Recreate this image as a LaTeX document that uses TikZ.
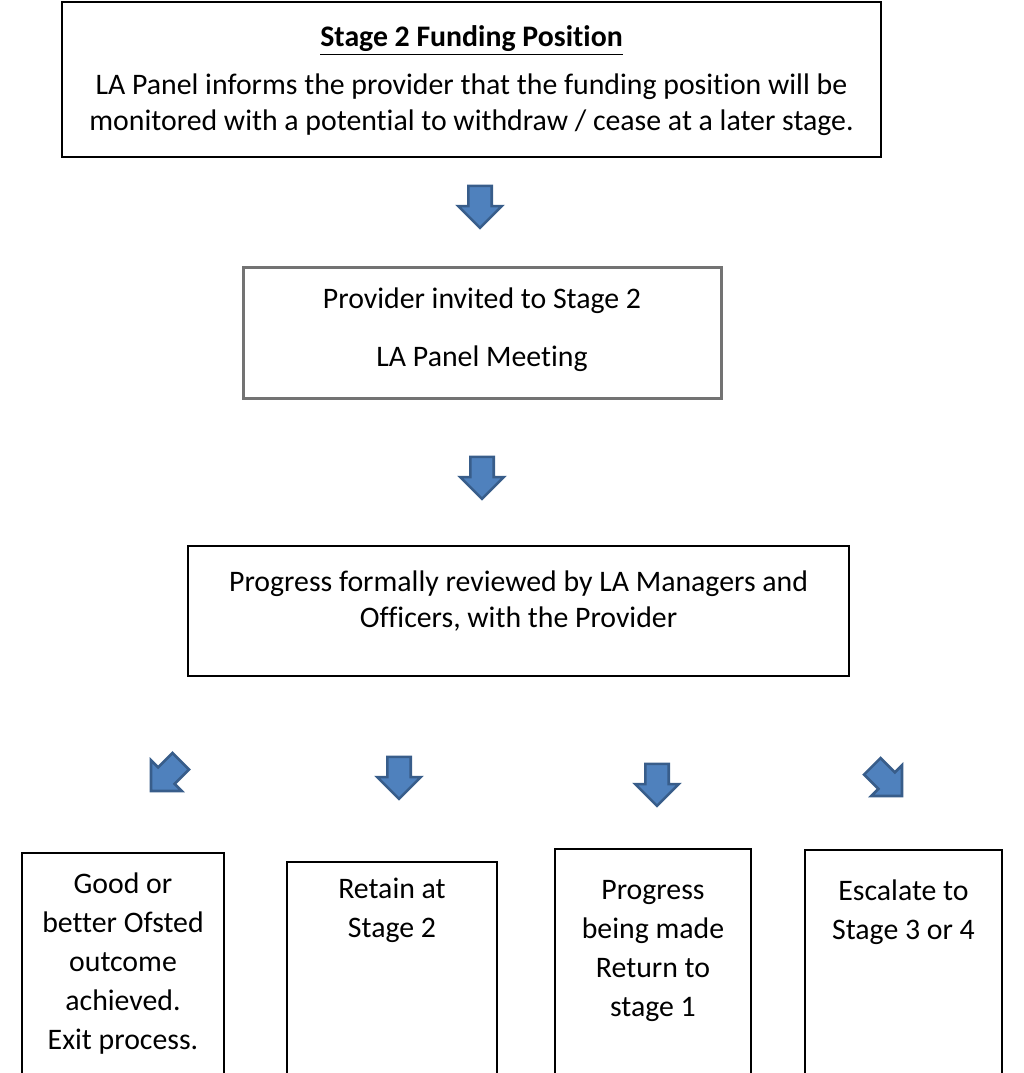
\documentclass[tikz,border=0pt]{standalone}
\usepackage{fontspec}
\setmainfont{Carlito}[Ligatures=NoCommon]
\usetikzlibrary{shapes.arrows}
\definecolor{arrfill}{RGB}{79,129,189}
\definecolor{arrline}{RGB}{56,93,138}
\begin{document}
\begin{tikzpicture}[x=0.5pt,y=-0.5pt,line join=miter,
	box/.style={draw,line width=0.8pt,inner sep=0pt},
	txt/.style={align=center,inner sep=0pt,font=\fontsize{14.9}{18}\selectfont},
	txtb/.style={txt,font=\fontsize{14.9}{19.5}\selectfont},
	blk/.style={single arrow,fill=arrfill,draw=arrline,line width=1.3pt,inner sep=0pt,inner ysep=5.2pt,
		minimum height=21pt,single arrow head extend=5pt}]
	\clip (0,0) rectangle (1024,1073);
	% boxes
	\node[box,minimum width=409.5pt,minimum height=77.5pt] (fund) at (471.5,79.5) {};
	\node[box,draw=black!55,line width=1.5pt,minimum width=239pt,minimum height=65.5pt] (invite) at (482,332.5) {};
	\node[box,minimum width=330.5pt,minimum height=65pt] (review) at (518.5,611) {};
	\node[box,minimum width=101pt,minimum height=118.5pt] (exit) at (123,971.5) {};
	\node[box,minimum width=105pt,minimum height=114pt] (retain) at (392,976) {};
	\node[box,minimum width=98pt,minimum height=120.5pt] (back) at (653,969.5) {};
	\node[box,minimum width=98.5pt,minimum height=120pt] (escalate) at (903.5,970) {};
	% texts
	\node[txt] (fundtxt) at (471.5,81) {\underline{\textbf{Stage 2 Funding Position}}\\[6pt]
		LA Panel informs the provider that the funding position will be\\
		monitored with a potential to withdraw / cease at a later stage.};
	\node[txt] (invitetxt) at (482,330) {Provider invited to Stage 2\\[11pt]LA Panel Meeting};
	\node[txt] (reviewtxt) at (518.5,601.5) {Progress formally reviewed by LA Managers and\\Officers, with the Provider};
	\node[txtb] (exittxt) at (123,964) {Good or\\better Ofsted\\outcome\\achieved.\\Exit process.};
	\node[txtb] (retaintxt) at (392,910) {Retain at\\Stage 2};
	\node[txtb] (backtxt) at (653,950.5) {Progress\\being made\\Return to\\stage 1};
	\node[txtb] (escalatetxt) at (903.5,912) {Escalate to\\Stage 3 or 4};
	% block arrows
	\foreach \n/\x/\y/\a in {a1/480/201/-90,a2/482/472/-90,a3/170/772/-135,a4/399/772/-90,a5/657/779/-90,a6/883/777/-45}
		\node[blk,rotate=\a] (\n) at (\x,\y) {};
\end{tikzpicture}
\end{document}
